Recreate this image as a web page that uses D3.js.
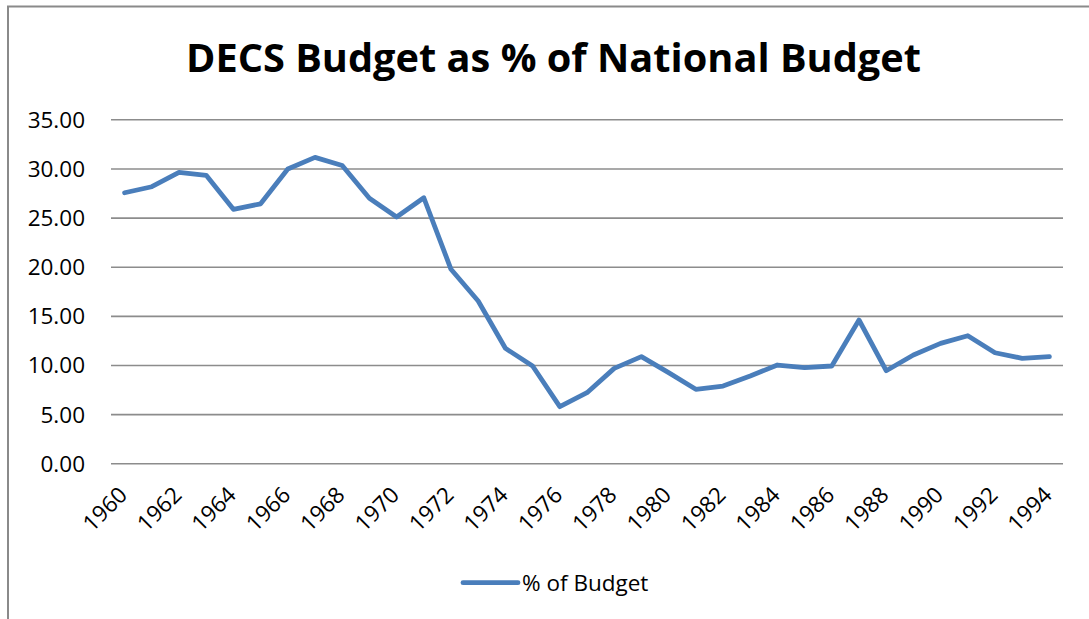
<!DOCTYPE html>
<html>
<head>
    <title>DECS Budget as % of National Budget</title>
    <script src="https://d3js.org/d3.v7.min.js"></script>
    <style>
        body { margin: 0; background: #fff; }
        text { font-family: "Open Sans", sans-serif; fill: #000; }
    </style>
</head>
<body>
    <div id="chart"></div>
    <script>
const years = [1960, 1961, 1962, 1963, 1964, 1965, 1966, 1967, 1968, 1969,
    1970, 1971, 1972, 1973, 1974, 1975, 1976, 1977, 1978, 1979,
    1980, 1981, 1982, 1983, 1984, 1985, 1986, 1987, 1988, 1989,
    1990, 1991, 1992, 1993, 1994];
const budgetPct = [27.53, 28.14, 29.6, 29.3, 25.84, 26.4, 29.94, 31.13, 30.3, 26.96,
    25.06, 27.02, 19.74, 16.51, 11.7, 9.9, 5.76, 7.18, 9.66, 10.85,
    9.22, 7.53, 7.86, 8.88, 10.0, 9.73, 9.9, 14.58, 9.42, 11.02,
    12.2, 12.98, 11.25, 10.68, 10.85];
const yTicks = [0, 5, 10, 15, 20, 25, 30, 35];
const xTickYears = [1960, 1962, 1964, 1966, 1968, 1970, 1972, 1974, 1976, 1978,
    1980, 1982, 1984, 1986, 1988, 1990, 1992, 1994];

const width = 1089;
const height = 619;
const plot = { left: 111, right: 1063, top: 119.3, bottom: 463.3 };
const labelSize = 22.5;

const svg = d3.select('#chart')
    .append('svg')
    .attr('width', width)
    .attr('height', height);

// chart frame (only top and left edges are visible)
svg.append('path')
    .attr('d', `M8,${height} L8,6.5 L${width},6.5`)
    .attr('fill', 'none')
    .attr('stroke', '#8a8a8a')
    .attr('stroke-width', 2);

const x = d3.scaleBand()
    .domain(years)
    .range([plot.left, plot.right])
    .padding(0);

const y = d3.scaleLinear()
    .domain([0, 35])
    .range([plot.bottom, plot.top]);

// gridlines + y labels
const yAxis = svg.append('g')
    .attr('transform', `translate(${plot.left},0)`)
    .call(d3.axisLeft(y)
        .tickValues(yTicks)
        .tickFormat(d3.format('.2f'))
        .tickSize(-(plot.right - plot.left))
        .tickPadding(26));
yAxis.select('.domain').remove();
yAxis.selectAll('.tick line')
    .attr('stroke', '#8c8c8c')
    .attr('stroke-width', 1.6);
yAxis.selectAll('.tick text')
    .attr('font-size', labelSize)
    .attr('dy', '0.35em');

// x labels
const xAxis = svg.append('g')
    .attr('transform', `translate(0,${plot.bottom})`)
    .call(d3.axisBottom(x)
        .tickValues(xTickYears)
        .tickSize(0));
xAxis.select('.domain').remove();
xAxis.selectAll('.tick text')
    .attr('font-size', labelSize)
    .attr('text-anchor', 'end')
    .attr('dy', null)
    .attr('y', 0)
    .attr('transform', 'translate(4,33) rotate(-45)');

// series line
const line = d3.line()
    .x((d, i) => x(years[i]) + x.bandwidth() / 2)
    .y(d => y(d));

svg.append('path')
    .datum(budgetPct)
    .attr('fill', 'none')
    .attr('stroke', '#4a7ebb')
    .attr('stroke-width', 4.8)
    .attr('stroke-linejoin', 'round')
    .attr('stroke-linecap', 'round')
    .attr('d', line);

// title
svg.append('text')
    .attr('x', 553.5)
    .attr('y', 72)
    .attr('text-anchor', 'middle')
    .attr('font-size', 39)
    .attr('font-weight', 'bold')
    .attr('textLength', 735)
    .attr('lengthAdjust', 'spacingAndGlyphs')
    .text('DECS Budget as % of National Budget');

// legend
const legend = svg.append('g');
legend.append('line')
    .attr('x1', 463).attr('x2', 518)
    .attr('y1', 582.7).attr('y2', 582.7)
    .attr('stroke', '#4a7ebb')
    .attr('stroke-width', 4.8)
    .attr('stroke-linecap', 'round');
legend.append('text')
    .attr('x', 522)
    .attr('y', 591)
    .attr('font-size', labelSize)
    .text('% of Budget');
    </script>
</body>
</html>
